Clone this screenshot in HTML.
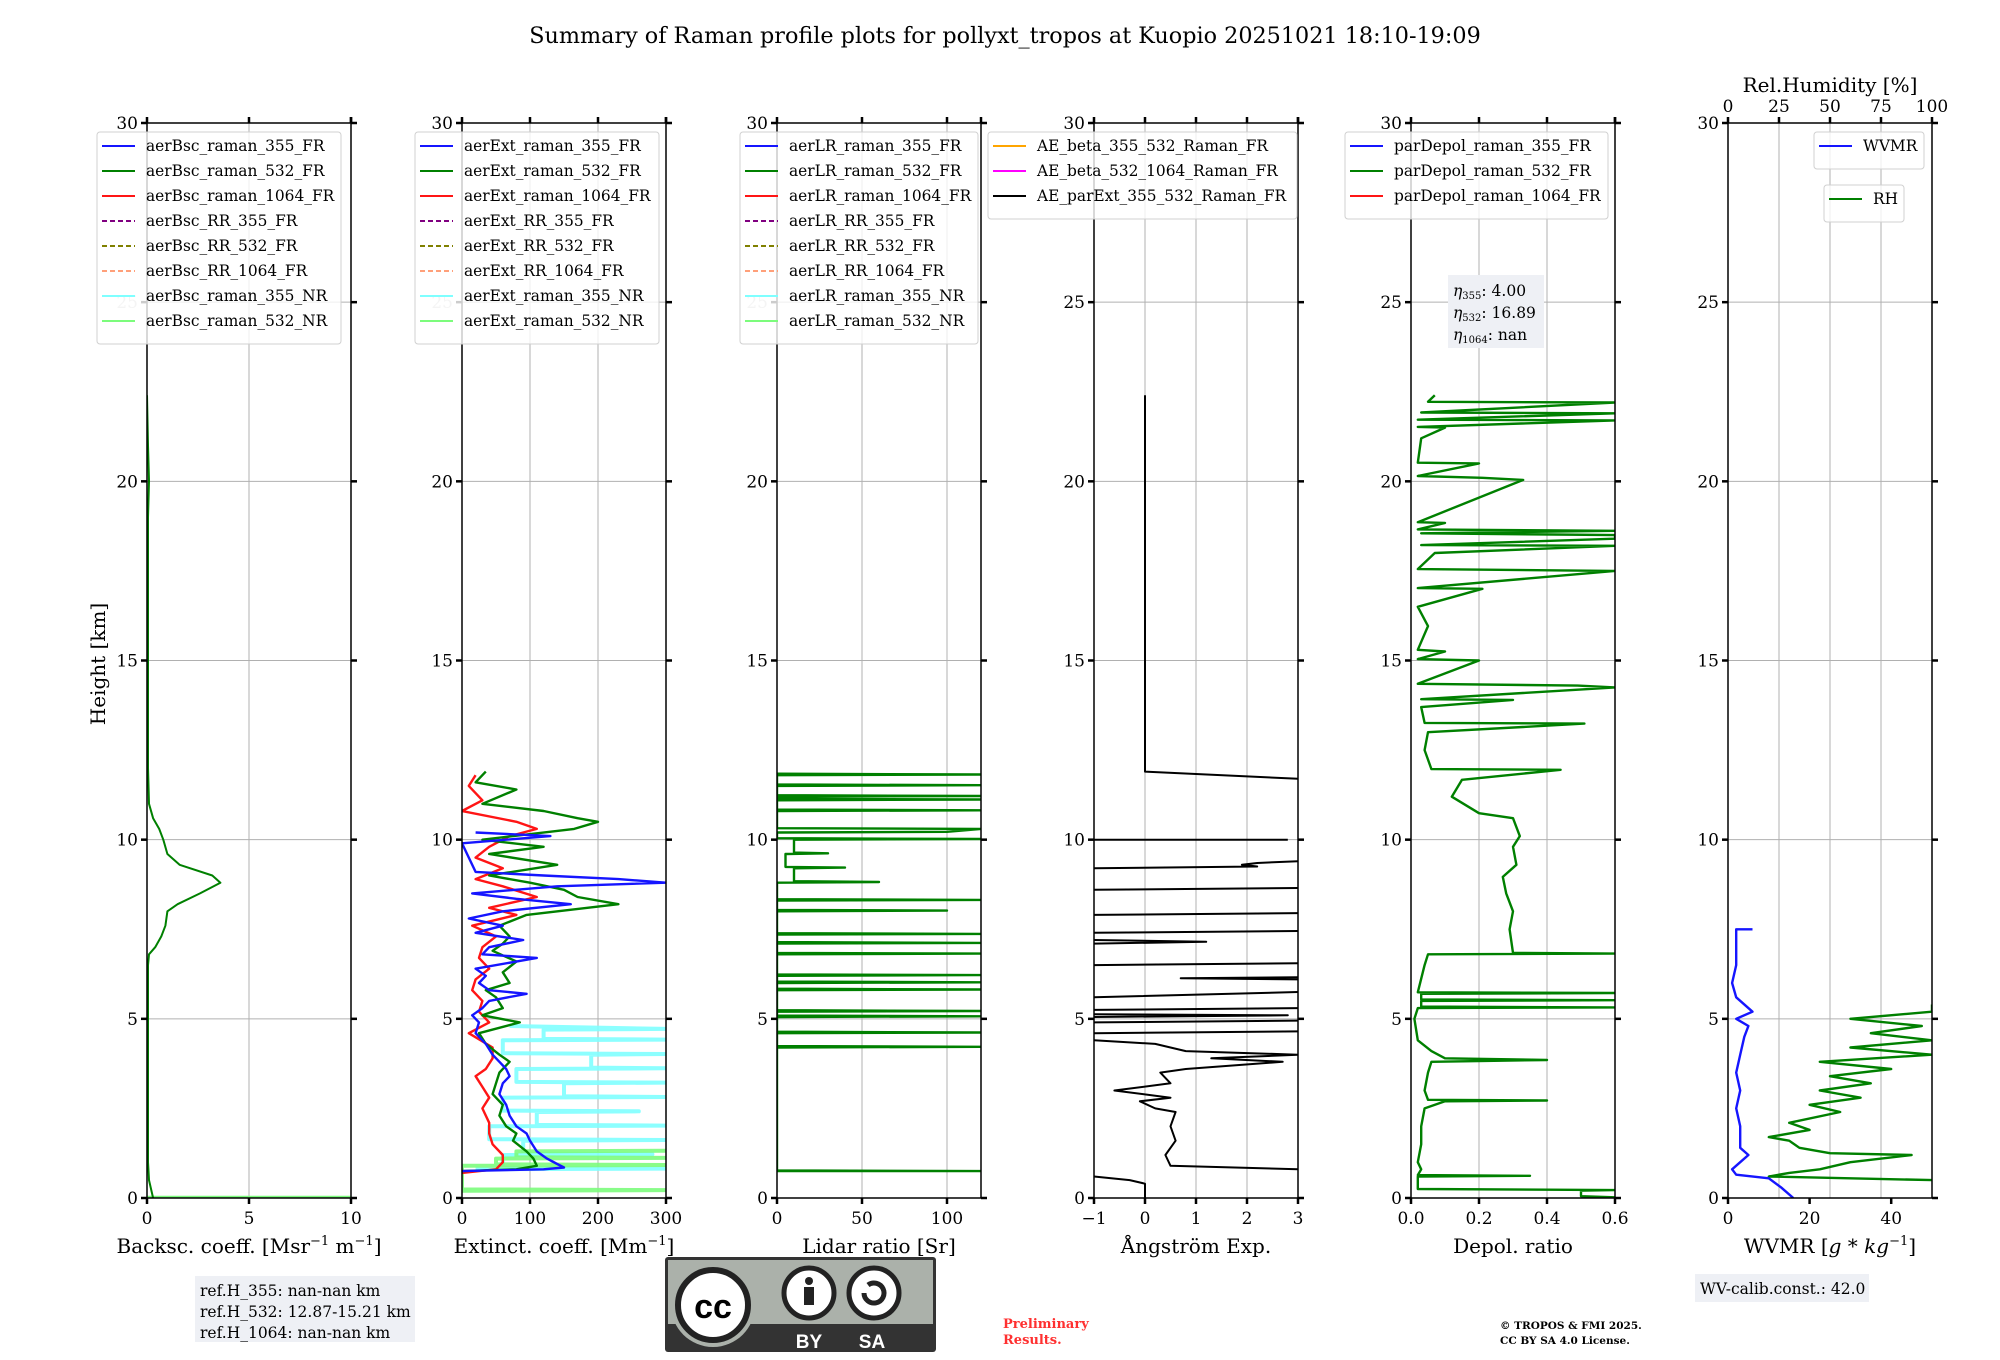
<!DOCTYPE html>
<html><head><meta charset="utf-8">
<style>
body{margin:0;background:#fff;}
svg{display:block;font-family:"DejaVu Serif","Liberation Serif",serif;}
</style></head>
<body>
<svg id="fig" width="2000" height="1360" viewBox="0 0 2000 1360" xmlns="http://www.w3.org/2000/svg">
<text x="1005" y="43" text-anchor="middle" font-size="22.3">Summary of Raman profile plots for pollyxt_tropos at Kuopio 20251021 18:10-19:09</text>
<text transform="translate(105,664) rotate(-90)" text-anchor="middle" font-size="20">Height [km]</text>
<g id="plots"></g>
<g>
<rect x="195" y="1276" width="220" height="66" fill="#eef0f5"/>
<text x="200" y="1296" font-size="15.5">ref.H_355: nan-nan km</text>
<text x="200" y="1317" font-size="15.5">ref.H_532: 12.87-15.21 km</text>
<text x="200" y="1338" font-size="15.5">ref.H_1064: nan-nan km</text>
</g>
<g>
<rect x="665" y="1257" width="271" height="95" fill="#333" rx="3"/>
<rect x="668" y="1260" width="265" height="64" fill="#abb1aa"/>
<circle cx="713" cy="1305" r="42" fill="#abb1aa"/>
<circle cx="713" cy="1305" r="35" fill="#fff" stroke="#222" stroke-width="6"/>
<text x="713" y="1318" text-anchor="middle" font-family="Liberation Sans,sans-serif" font-weight="bold" font-size="34">cc</text>
<circle cx="809" cy="1293" r="25" fill="#fff" stroke="#222" stroke-width="5"/>
<circle cx="809" cy="1281" r="4" fill="#222"/><rect x="804" y="1287" width="10" height="18" fill="#222"/>
<circle cx="874" cy="1293" r="25" fill="#fff" stroke="#222" stroke-width="5"/>
<path d="M864 1293 a10 10 0 1 0 4 -8" fill="none" stroke="#222" stroke-width="5"/>
<text x="809" y="1348" text-anchor="middle" fill="#fff" font-family="Liberation Sans,sans-serif" font-weight="bold" font-size="19">BY</text>
<text x="872" y="1348" text-anchor="middle" fill="#fff" font-family="Liberation Sans,sans-serif" font-weight="bold" font-size="19">SA</text>
</g>
<text x="1003" y="1328" fill="#ff3030" font-weight="bold" font-size="13">Preliminary</text>
<text x="1003" y="1344" fill="#ff3030" font-weight="bold" font-size="13">Results.</text>
<text x="1500" y="1329" font-weight="bold" font-size="10.5">© TROPOS &amp; FMI 2025.</text>
<text x="1500" y="1344" font-weight="bold" font-size="10.5">CC BY SA 4.0 License.</text>
<g>
<rect x="1695" y="1274" width="174" height="28" fill="#eef0f5"/>
<text x="1700" y="1294" font-size="15.5">WV-calib.const.: 42.0</text>
</g>
</svg>
<script>
// ---- data (height km, value) ----
const bsc532 = [[0,0.3],[0.5,0.1],[1,0.05],[3,0.05],[5,0.05],[6.5,0.05],[6.8,0.1],[7.0,0.4],[7.3,0.7],[7.6,0.9],[8.0,1.0],[8.2,1.5],[8.5,2.6],[8.8,3.6],[9.0,3.2],[9.3,1.6],[9.6,1.0],[10.0,0.8],[10.3,0.6],[10.6,0.3],[11,0.1],[12,0.05],[15,0.05],[19,0.05],[20,0.1],[21,0.05],[22.4,0]];
const bscNR = [[0.02,0],[0.02,10]];
const ext355 = [[0.75,0],[0.8,120],[0.85,150],[0.95,140],[1.1,125],[1.3,110],[1.6,100],[1.8,95],[2.0,80],[2.3,70],[2.6,65],[2.9,55],[3.2,60],[3.4,70],[3.6,65],[3.8,55],[4.0,45],[4.3,35],[4.6,20],[4.9,25],[5.1,15],[5.3,30],[5.5,40],[5.7,95],[5.8,40],[6.0,25],[6.2,35],[6.4,20],[6.7,110],[6.8,30],[7.0,40],[7.2,90],[7.4,20],[7.6,60],[7.8,10],[8.0,60],[8.2,160],[8.35,80],[8.5,15],[8.7,140],[8.8,300],[8.9,230],[9.0,120],[9.1,20],[9.5,10],[9.9,0],[10.1,130],[10.2,20]];
const ext532 = [[0.75,0],[0.8,80],[0.9,110],[1.1,105],[1.3,95],[1.6,75],[1.8,80],[2.0,65],[2.3,55],[2.6,60],[2.9,45],[3.2,50],[3.5,55],[3.8,70],[4.0,55],[4.3,35],[4.6,25],[4.9,85],[5.1,30],[5.3,60],[5.6,50],[5.8,35],[6.0,70],[6.3,60],[6.6,80],[6.9,45],[7.1,60],[7.3,70],[7.6,55],[7.9,95],[8.2,230],[8.4,170],[8.6,150],[8.8,100],[9.0,40],[9.3,140],[9.6,40],[9.8,120],[10.0,30],[10.3,165],[10.5,200],[10.6,170],[10.8,120],[11.0,30],[11.4,80],[11.6,20],[11.9,35]];
const ext1064 = [[0.7,0],[0.8,50],[1.0,60],[1.2,60],[1.5,45],[1.8,40],[2.1,40],[2.5,30],[2.8,40],[3.1,30],[3.4,20],[3.6,35],[3.9,45],[4.2,45],[4.6,10],[4.9,40],[5.2,25],[5.5,30],[5.8,15],[6.1,20],[6.4,40],[6.7,25],[7.0,30],[7.3,50],[7.6,15],[7.9,80],[8.1,40],[8.4,110],[8.7,60],[8.9,20],[9.2,60],[9.5,20],[9.8,40],[10.1,70],[10.3,110],[10.5,80],[10.8,0],[11.1,30],[11.5,10],[11.8,20]];
const ext355NR = [[0.8,20],[0.82,300],[0.84,60],[1.2,60],[1.22,280],[1.24,90],[1.6,90],[1.62,300],[1.64,40],[2.0,40],[2.02,300],[2.04,110],[2.4,110],[2.42,260],[2.44,60],[2.8,60],[2.82,300],[2.84,150],[3.2,150],[3.22,300],[3.24,80],[3.6,80],[3.62,300],[3.64,190],[4.0,190],[4.02,300],[4.04,60],[4.4,60],[4.42,300],[4.44,120],[4.7,120],[4.72,300],[4.8,70]];
const ext532NR = [[0.2,0],[0.22,300],[0.24,0],[0.9,0],[0.92,300],[0.94,50],[1.1,50],[1.12,300],[1.14,80],[1.3,80],[1.32,300]];
const lr532 = [[0.75,0],[0.75,120],[0.77,0],[4.2,0],[4.22,120],[4.24,0],[4.6,0],[4.62,120],[4.64,0],[5.05,0],[5.07,120],[5.09,0],[5.2,0],[5.22,120],[5.24,0],[5.8,0],[5.82,120],[5.84,0],[6.0,0],[6.02,120],[6.04,0],[6.2,0],[6.22,120],[6.24,0],[6.8,0],[6.82,120],[6.84,0],[7.1,0],[7.12,120],[7.14,0],[7.35,0],[7.37,120],[7.39,0],[8.0,0],[8.02,100],[8.04,0],[8.3,0],[8.32,120],[8.34,0],[8.8,0],[8.82,60],[8.84,10],[9.2,10],[9.22,40],[9.24,5],[9.6,5],[9.62,30],[9.64,10],[10.0,10],[10.02,120],[10.04,0],[10.2,0],[10.22,100],[10.3,120],[10.32,0],[10.8,0],[10.82,120],[10.84,0],[11.1,0],[11.12,120],[11.14,0],[11.2,0],[11.22,120],[11.24,0],[11.5,0],[11.52,120],[11.54,0],[11.8,0],[11.82,120],[11.84,0]];
const aeParExt = [[0.6,-1],[0.5,-0.3],[0.4,0],[0,0],null,[0.8,3],[0.9,0.5],[1.2,0.4],[1.6,0.6],[2.0,0.5],[2.4,0.6],[2.5,0.2],[2.7,-0.1],[2.8,0.5],[3.0,-0.6],[3.2,0.5],[3.5,0.3],[3.6,0.8],[3.8,2.7],[3.9,1.3],[4.0,3.0],[4.1,0.8],[4.3,0.2],[4.4,-1],null,[4.6,-1],[4.65,3],null,[4.9,-1],[4.95,3],null,[5.05,-1],[5.1,2.8],[5.13,-1],null,[5.25,-1],[5.3,3],null,[5.6,-1],[5.75,3],null,[6.1,3],[6.13,0.7],[6.16,3],null,[6.5,-1],[6.55,3],null,[7.1,-1],[7.15,1.2],[7.2,-1],null,[7.4,-1],[7.45,3],null,[7.9,-1],[7.95,3],null,[8.6,-1],[8.65,3],null,[9.2,-1],[9.25,2.2],[9.3,1.9],[9.35,2.2],[9.4,3],null,[10.0,-1],[10.0,2.8],null,[11.7,3],[11.9,0],[22.4,0]];
const depol532 = [[0,0.6],[0.02,0.6],[0.05,0.5],[0.2,0.5],[0.22,0.6],[0.25,0.02],[0.6,0.02],[0.62,0.35],[0.64,0.02],[0.8,0.03],[1.0,0.02],[1.5,0.03],[2.0,0.03],[2.5,0.04],[2.7,0.1],[2.72,0.4],[2.74,0.05],[3.0,0.04],[3.5,0.05],[3.8,0.06],[3.85,0.4],[3.9,0.1],[4.1,0.06],[4.4,0.02],[5.0,0.01],[5.3,0.02],[5.32,0.6],[5.34,0.03],[5.5,0.03],[5.52,0.6],[5.54,0.03],[5.7,0.03],[5.72,0.6],[5.74,0.02],[6.5,0.04],[6.8,0.05],[6.82,0.6],[6.84,0.3],[7.5,0.29],[8.0,0.3],[8.5,0.28],[8.96,0.27],[9.3,0.31],[9.8,0.3],[10.1,0.32],[10.6,0.3],[10.74,0.2],[11.2,0.12],[11.67,0.15],[11.95,0.44],[11.97,0.06],[12.5,0.04],[13.0,0.05],[13.24,0.51],[13.26,0.04],[13.7,0.03],[13.9,0.3],[13.92,0.03],[14.25,0.6],[14.3,0.49],[14.35,0.02],[15.0,0.2],[15.04,0.02],[15.25,0.1],[15.3,0.02],[15.96,0.05],[16.5,0.02],[17.0,0.21],[17.02,0.02],[17.5,0.6],[17.55,0.02],[18.0,0.07],[18.2,0.6],[18.22,0.03],[18.4,0.6],[18.45,0.6],[18.5,0.6],[18.55,0.03],[18.62,0.6],[18.66,0.02],[18.84,0.1],[18.86,0.02],[20.04,0.33],[20.1,0.21],[20.15,0.02],[20.5,0.2],[20.52,0.02],[21.2,0.03],[21.5,0.1],[21.52,0.02],[21.7,0.6],[21.72,0.02],[21.9,0.6],[21.92,0.03],[22.2,0.6],[22.22,0.05],[22.4,0.07]];
const wvmr = [[0,16],[0.3,13],[0.55,10],[0.65,2],[0.8,1],[1.0,3],[1.2,5],[1.4,3],[2.0,3],[2.5,2],[3.0,3],[3.5,2],[4.0,3],[4.5,4],[4.8,5],[5.0,2],[5.2,6],[5.6,2],[6.0,1],[6.5,2],[7.5,2],[7.5,6]];
const rh = [[0.5,100],[0.6,20],[0.7,30],[0.8,45],[1.0,60],[1.2,90],[1.25,50],[1.4,35],[1.6,30],[1.7,20],[1.9,40],[2.1,30],[2.4,55],[2.6,40],[2.8,65],[3.0,45],[3.2,70],[3.4,50],[3.6,80],[3.8,45],[4.0,100],[4.2,60],[4.4,100],[4.6,70],[4.8,95],[5.0,60],[5.2,100],[5.4,100]];
// axis config
const domains = [[0,10],[0,300],[0,120],[-1,3],[0,0.6],[0,50]];
const xticks = [[0,5,10],[0,100,200,300],[0,50,100],[-1,0,1,2,3],[0,0.2,0.4,0.6],[0,20,40]];
const xtickLabels = [["0","5","10"],["0","100","200","300"],["0","50","100"],["−1","0","1","2","3"],["0.0","0.2","0.4","0.6"],["0","20","40"]];
const yticks = [0,5,10,15,20,25,30];
const rhTicks = [0,25,50,75,100];
const xlabels = ["Backsc. coeff. [Msr<tspan dy='-8' font-size='13'>−1</tspan><tspan dy='8'> m</tspan><tspan dy='-8' font-size='13'>−1</tspan><tspan dy='8'>]</tspan>","Extinct. coeff. [Mm<tspan dy='-8' font-size='13'>−1</tspan><tspan dy='8'>]</tspan>","Lidar ratio [Sr]","Ångström Exp.","Depol. ratio","WVMR [<tspan font-style='italic'>g</tspan> * <tspan font-style='italic'>kg</tspan><tspan dy='-8' font-size='13'>−1</tspan><tspan dy='8'>]</tspan>"];
const names = ["backscatter","extinction","lidar-ratio","angstrom","depol","wvmr"];
const legends = [
 [["aerBsc_raman_355_FR","#1515ff",0],["aerBsc_raman_532_FR","#008000",0],["aerBsc_raman_1064_FR","#ff1515",0],["aerBsc_RR_355_FR","#800080",1],["aerBsc_RR_532_FR","#808000",1],["aerBsc_RR_1064_FR","#ffa07a",1],["aerBsc_raman_355_NR","#7fffff",0],["aerBsc_raman_532_NR","#7cfc7c",0]],
 [["aerExt_raman_355_FR","#1515ff",0],["aerExt_raman_532_FR","#008000",0],["aerExt_raman_1064_FR","#ff1515",0],["aerExt_RR_355_FR","#800080",1],["aerExt_RR_532_FR","#808000",1],["aerExt_RR_1064_FR","#ffa07a",1],["aerExt_raman_355_NR","#7fffff",0],["aerExt_raman_532_NR","#7cfc7c",0]],
 [["aerLR_raman_355_FR","#1515ff",0],["aerLR_raman_532_FR","#008000",0],["aerLR_raman_1064_FR","#ff1515",0],["aerLR_RR_355_FR","#800080",1],["aerLR_RR_532_FR","#808000",1],["aerLR_RR_1064_FR","#ffa07a",1],["aerLR_raman_355_NR","#7fffff",0],["aerLR_raman_532_NR","#7cfc7c",0]],
 [["AE_beta_355_532_Raman_FR","#ffa500",0],["AE_beta_532_1064_Raman_FR","#ff00ff",0],["AE_parExt_355_532_Raman_FR","#000",0]],
 [["parDepol_raman_355_FR","#1515ff",0],["parDepol_raman_532_FR","#008000",0],["parDepol_raman_1064_FR","#ff1515",0]]
];
const legendBoxes = [[97,132,244],[415,132,244],[740,132,238],[988,132,309],[1345,132,263]];
// geometry
const lefts = [147,462,777,1094,1411,1728], W = 204, TOP = 123, BOT = 1198;
const NS = "http://www.w3.org/2000/svg";
const g = document.getElementById('plots');
function el(tag, attrs, parent){const e=document.createElementNS(NS,tag);for(const k in attrs)e.setAttribute(k,attrs[k]);(parent||g).appendChild(e);return e;}
function yS(h){return BOT-(h-0)/30*(BOT-TOP);}
function xS(i,v){const d=domains[i];return lefts[i]+(v-d[0])/(d[1]-d[0])*W;}
function path(i,data,color,w,opacity,name,xfn){
  let d="",pen=false;
  for(const p of data){ if(!p){pen=false;continue;}
    const x=xfn?xfn(p[1]):xS(i,p[1]); d+=(pen?"L":"M")+x.toFixed(1)+" "+yS(p[0]).toFixed(1); pen=true;}
  const e=el('path',{d:d,fill:'none',stroke:color,'stroke-width':w,'stroke-opacity':opacity,'stroke-linejoin':'round'});
  
  
  return e;
}
for(let i=0;i<6;i++){
  const L=lefts[i];
  const clip=el('clipPath',{id:'c'+i});el('rect',{x:L,y:TOP,width:W,height:BOT-TOP},clip);
  for(const t of yticks){ if(t===0||t===30)continue; const gl=el('line',{x1:L,x2:L+W,y1:yS(t),y2:yS(t),stroke:'#b0b0b0','stroke-width':1});
     }
  const gx = i===5 ? rhTicks.map(v=>L+v/100*W) : xticks[i].map(v=>xS(i,v));
  for(const x of gx){ const gl=el('line',{x1:x,x2:x,y1:TOP,y2:BOT,stroke:'#b0b0b0','stroke-width':1});
     }
  const dg=el('g',{'clip-path':'url(#c'+i+')'});
  const add=(data,c,w,o,n,f)=>dg.appendChild(path(i,data,c,w,o,n,f));
  if(i===0){add(bscNR,'#7cfc7c',3,1,'bsc-532-nr-line');add(bsc532,'#008000',2,1,'bsc-532-fr-line');}
  if(i===1){add(ext355NR,'#7fffff',4,0.9,'ext-355-nr-line');add(ext532NR,'#7cfc7c',4,0.9,'ext-532-nr-line');
    add(ext1064,'#ff1515',2.4,1,'ext-1064-fr-line');add(ext532,'#008000',2.4,1,'ext-532-fr-line');add(ext355,'#1515ff',2.4,1,'ext-355-fr-line');}
  if(i===2){add(lr532,'#008000',2.4,1,'lr-532-fr-line');}
  if(i===3){add(aeParExt,'#000',2,1,'ae-parext-line');}
  if(i===4){add(depol532,'#008000',2.4,1,'depol-532-line');}
  if(i===5){add(rh,'#008000',2.4,1,'rh-line',v=>L+v/100*W);add(wvmr,'#1515ff',2.4,1,'wvmr-line');}
  const sp=el('rect',{x:L,y:TOP,width:W,height:BOT-TOP,fill:'none',stroke:'#000','stroke-width':1.5});
   
  for(const t of yticks){const y=yS(t);
    el('line',{x1:L-6,x2:L,y1:y,y2:y,stroke:'#000','stroke-width':2.5});
    el('line',{x1:L+W,x2:L+W+6,y1:y,y2:y,stroke:'#000','stroke-width':2.5});
    const tl=el('text',{x:L-9,y:y+6,'text-anchor':'end','font-size':17,fill:(t===25&&i<3)?'#c8c8c8':'#000'});tl.textContent=t;
     }
  xticks[i].forEach((v,k)=>{const x=xS(i,v);
    el('line',{x1:x,x2:x,y1:BOT,y2:BOT+6,stroke:'#000','stroke-width':2.5});
    if(i!==5) el('line',{x1:x,x2:x,y1:TOP-6,y2:TOP,stroke:'#000','stroke-width':2.5});
    const tl=el('text',{x:x,y:BOT+26,'text-anchor':'middle','font-size':17});tl.textContent=xtickLabels[i][k];
     });
  if(i!==5) el('line',{x1:L+W,x2:L+W,y1:TOP-6,y2:TOP,stroke:'#000','stroke-width':2.5});
  const xl=el('text',{x:L+W/2,y:BOT+55,'text-anchor':'middle','font-size':20});xl.innerHTML=xlabels[i];
   
  if(i===5){
    rhTicks.forEach(v=>{const x=L+v/100*W;el('line',{x1:x,x2:x,y1:TOP-6,y2:TOP,stroke:'#000','stroke-width':2.5});
      const tl=el('text',{x:x,y:TOP-11,'text-anchor':'middle','font-size':17});tl.textContent=v;
       });
    const rt=el('text',{x:L+W/2,y:92,'text-anchor':'middle','font-size':20});rt.textContent='Rel.Humidity [%]';
     
  }
}
function legend(entries,x,y,w,name){
  const lg=el('g',{});
   
  el('rect',{x:x,y:y,width:w,height:entries.length*25+12,fill:'#fff','fill-opacity':0.8,stroke:'#d0d0d0',rx:3},lg);
  entries.forEach((e,k)=>{const yy=y+14+k*25;
    el('line',{x1:x+5,x2:x+38,y1:yy,y2:yy,stroke:e[1],'stroke-width':2,'stroke-dasharray':e[2]?'5,3':'none'},lg);
    const t=el('text',{x:x+49,y:yy+5,'font-size':15.4},lg);t.textContent=e[0];
     });
}
legends.forEach((l,k)=>legend(l,legendBoxes[k][0],legendBoxes[k][1],legendBoxes[k][2],names[k]+'-legend'));
legend([["WVMR","#1515ff",0]],1814,132,110,'wvmr-legend');
legend([["RH","#008000",0]],1824,185,80,'rh-legend');
const eb=el('g',{});  
el('rect',{x:1448,y:275,width:96,height:73,fill:'#eef0f5'},eb);
[["355","4.00"],["532","16.89"],["1064","nan"]].forEach((r,k)=>{const t=el('text',{x:1453,y:296+k*22,'font-size':15.5},eb);
  t.innerHTML="<tspan font-style='italic'>η</tspan><tspan font-size='10' dy='3'>"+r[0]+"</tspan><tspan dy='-3'>: "+r[1]+"</tspan>";});
</script>
</body></html>
